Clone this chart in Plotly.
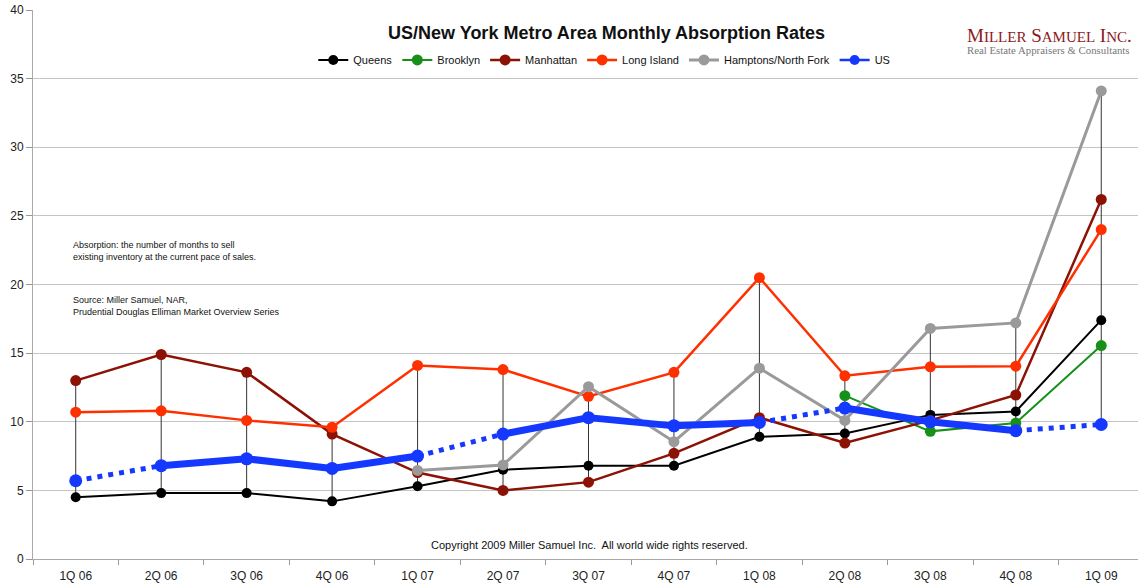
import plotly.graph_objects as go

quarters = ["1Q 06", "2Q 06", "3Q 06", "4Q 06", "1Q 07", "2Q 07", "3Q 07",
            "4Q 07", "1Q 08", "2Q 08", "3Q 08", "4Q 08", "1Q 09"]

queens = [4.5, 4.8, 4.8, 4.2, 5.3, 6.5, 6.8, 6.8, 8.9, 9.15, 10.5, 10.75, 17.4]
brooklyn = [None, None, None, None, None, None, None, None, None, 11.9, 9.3, 9.9, 15.55]
manhattan = [13.0, 14.9, 13.6, 9.1, 6.3, 5.0, 5.6, 7.7, 10.3, 8.45, 10.1, 11.95, 26.2]
long_island = [10.7, 10.8, 10.1, 9.6, 14.1, 13.8, 11.85, 13.6, 20.5, 13.35, 14.0, 14.05, 24.0]
hamptons = [None, None, None, None, 6.45, 6.85, 12.55, 8.55, 13.9, 10.1, 16.8, 17.2, 34.1]
us = [5.7, 6.8, 7.3, 6.6, 7.5, 9.1, 10.3, 9.7, 9.95, 11.0, 10.0, 9.35, 9.8]

# segments of the US series that are dotted (annual points joined to quarterly)
us_dotted_from = ["1Q 06", "1Q 07", "1Q 08", "4Q 08"]

series = [
    ("Queens", queens, "#000000", 2, 10),
    ("Brooklyn", brooklyn, "#17901a", 2, 11),
    ("Manhattan", manhattan, "#8c1206", 2.5, 11),
    ("Long Island", long_island, "#ff3000", 2.5, 11),
    ("Hamptons/North Fork", hamptons, "#9a9a9a", 3, 11),
]

fig = go.Figure()

# high-low lines at each quarter
hl_x, hl_y = [], []
all_vals = [s[1] for s in series] + [us]
for i, q in enumerate(quarters):
    vals = [v[i] for v in all_vals if v[i] is not None]
    hl_x += [q, q, None]
    hl_y += [min(vals), max(vals), None]
fig.add_trace(go.Scatter(x=hl_x, y=hl_y, mode="lines", line=dict(color="#333333", width=1),
                         showlegend=False, hoverinfo="skip"))

for name, vals, color, lw, ms in series:
    fig.add_trace(go.Scatter(x=quarters, y=vals, name=name, mode="lines+markers",
                             line=dict(color=color, width=lw),
                             marker=dict(color=color, size=ms)))

# US: thick solid part and dotted part
dot_idx = set(quarters.index(q) for q in us_dotted_from)
solid_x, solid_y, dot_x, dot_y = [], [], [], []
for i in range(len(quarters) - 1):
    if i in dot_idx:
        dot_x += [quarters[i], quarters[i + 1], None]
        dot_y += [us[i], us[i + 1], None]
    else:
        solid_x += [quarters[i], quarters[i + 1], None]
        solid_y += [us[i], us[i + 1], None]

blue = "#1538ff"
fig.add_trace(go.Scatter(x=dot_x, y=dot_y, mode="lines", showlegend=False,
                         line=dict(color=blue, width=5, dash="5px,6px"), hoverinfo="skip"))
fig.add_trace(go.Scatter(x=solid_x, y=solid_y, mode="lines", showlegend=False,
                         line=dict(color=blue, width=7), hoverinfo="skip"))
fig.add_trace(go.Scatter(x=quarters, y=us, mode="markers", showlegend=False, name="US",
                         marker=dict(color=blue, size=13)))
fig.add_trace(go.Scatter(x=[None], y=[None], name="US", mode="lines+markers",
                         line=dict(color=blue, width=2.5), marker=dict(color=blue, size=10)))

fig.update_layout(
    width=1138, height=585,
    margin=dict(l=33, r=0, t=10, b=26),
    paper_bgcolor="white", plot_bgcolor="white",
    font=dict(family="Liberation Sans, Arial, sans-serif", color="#222"),
    title=dict(text="<b>US/New York Metro Area Monthly Absorption Rates</b>",
               x=0.533, xanchor="center", y=0.944, yanchor="middle",
               font=dict(size=18, color="#111")),
    legend=dict(orientation="h", x=0.517, xanchor="center", y=0.909, yanchor="middle",
                font=dict(size=11, color="#111"), bgcolor="rgba(0,0,0,0)",
                itemwidth=30, tracegroupgap=0),
    showlegend=True,
)
fig.update_xaxes(type="category", range=[-0.5, 12.43], tickson="boundaries",
                 ticks="outside", ticklen=5, tickcolor="#999", showgrid=False,
                 showline=True, linecolor="#aaa", linewidth=1, automargin=False,
                 ticklabelstandoff=6, tickfont=dict(size=12, color="#222"))
fig.update_yaxes(range=[0, 40], dtick=5, showgrid=True, gridcolor="#c4c4c4", gridwidth=1,
                 ticks="outside", ticklen=6, tickcolor="#999", automargin=False,
                 showline=True, linecolor="#aaa", linewidth=1, zeroline=False,
                 tickfont=dict(size=12, color="#222"))

fig.add_annotation(text="Absorption: the number of months to sell<br>existing inventory at the current pace of sales.",
                   xref="paper", yref="paper", x=0.034, y=0.585, xanchor="left", yanchor="top",
                   align="left", showarrow=False, font=dict(size=9, color="#111"))
fig.add_annotation(text="Source: Miller Samuel, NAR,<br>Prudential Douglas Elliman Market Overview Series",
                   xref="paper", yref="paper", x=0.034, y=0.485, xanchor="left", yanchor="top",
                   align="left", showarrow=False, font=dict(size=9, color="#111"))
fig.add_annotation(text="Copyright 2009 Miller Samuel Inc.  All world wide rights reserved.",
                   xref="paper", yref="paper", x=0.504, y=0.026, xanchor="center", yanchor="middle",
                   showarrow=False, font=dict(size=11, color="#111"))
fig.add_annotation(text=("M<span style='font-size:15px'>ILLER</span> S<span style='font-size:15px'>AMUEL</span>"
                         " I<span style='font-size:15px'>NC</span>."),
                   xref="paper", yref="paper", x=0.843, y=0.953, xanchor="left", yanchor="middle",
                   showarrow=False, font=dict(size=19, color="#8b1a1a", family="Liberation Serif, serif"))
fig.add_annotation(text="Real Estate Appraisers &amp; Consultants",
                   xref="paper", yref="paper", x=0.843, y=0.927, xanchor="left", yanchor="middle",
                   showarrow=False, font=dict(size=10.8, color="#777", family="Liberation Serif, serif"))

fig.write_html("out.html", config={"displayModeBar": False},
               post_script="document.body.style.margin='0';")
